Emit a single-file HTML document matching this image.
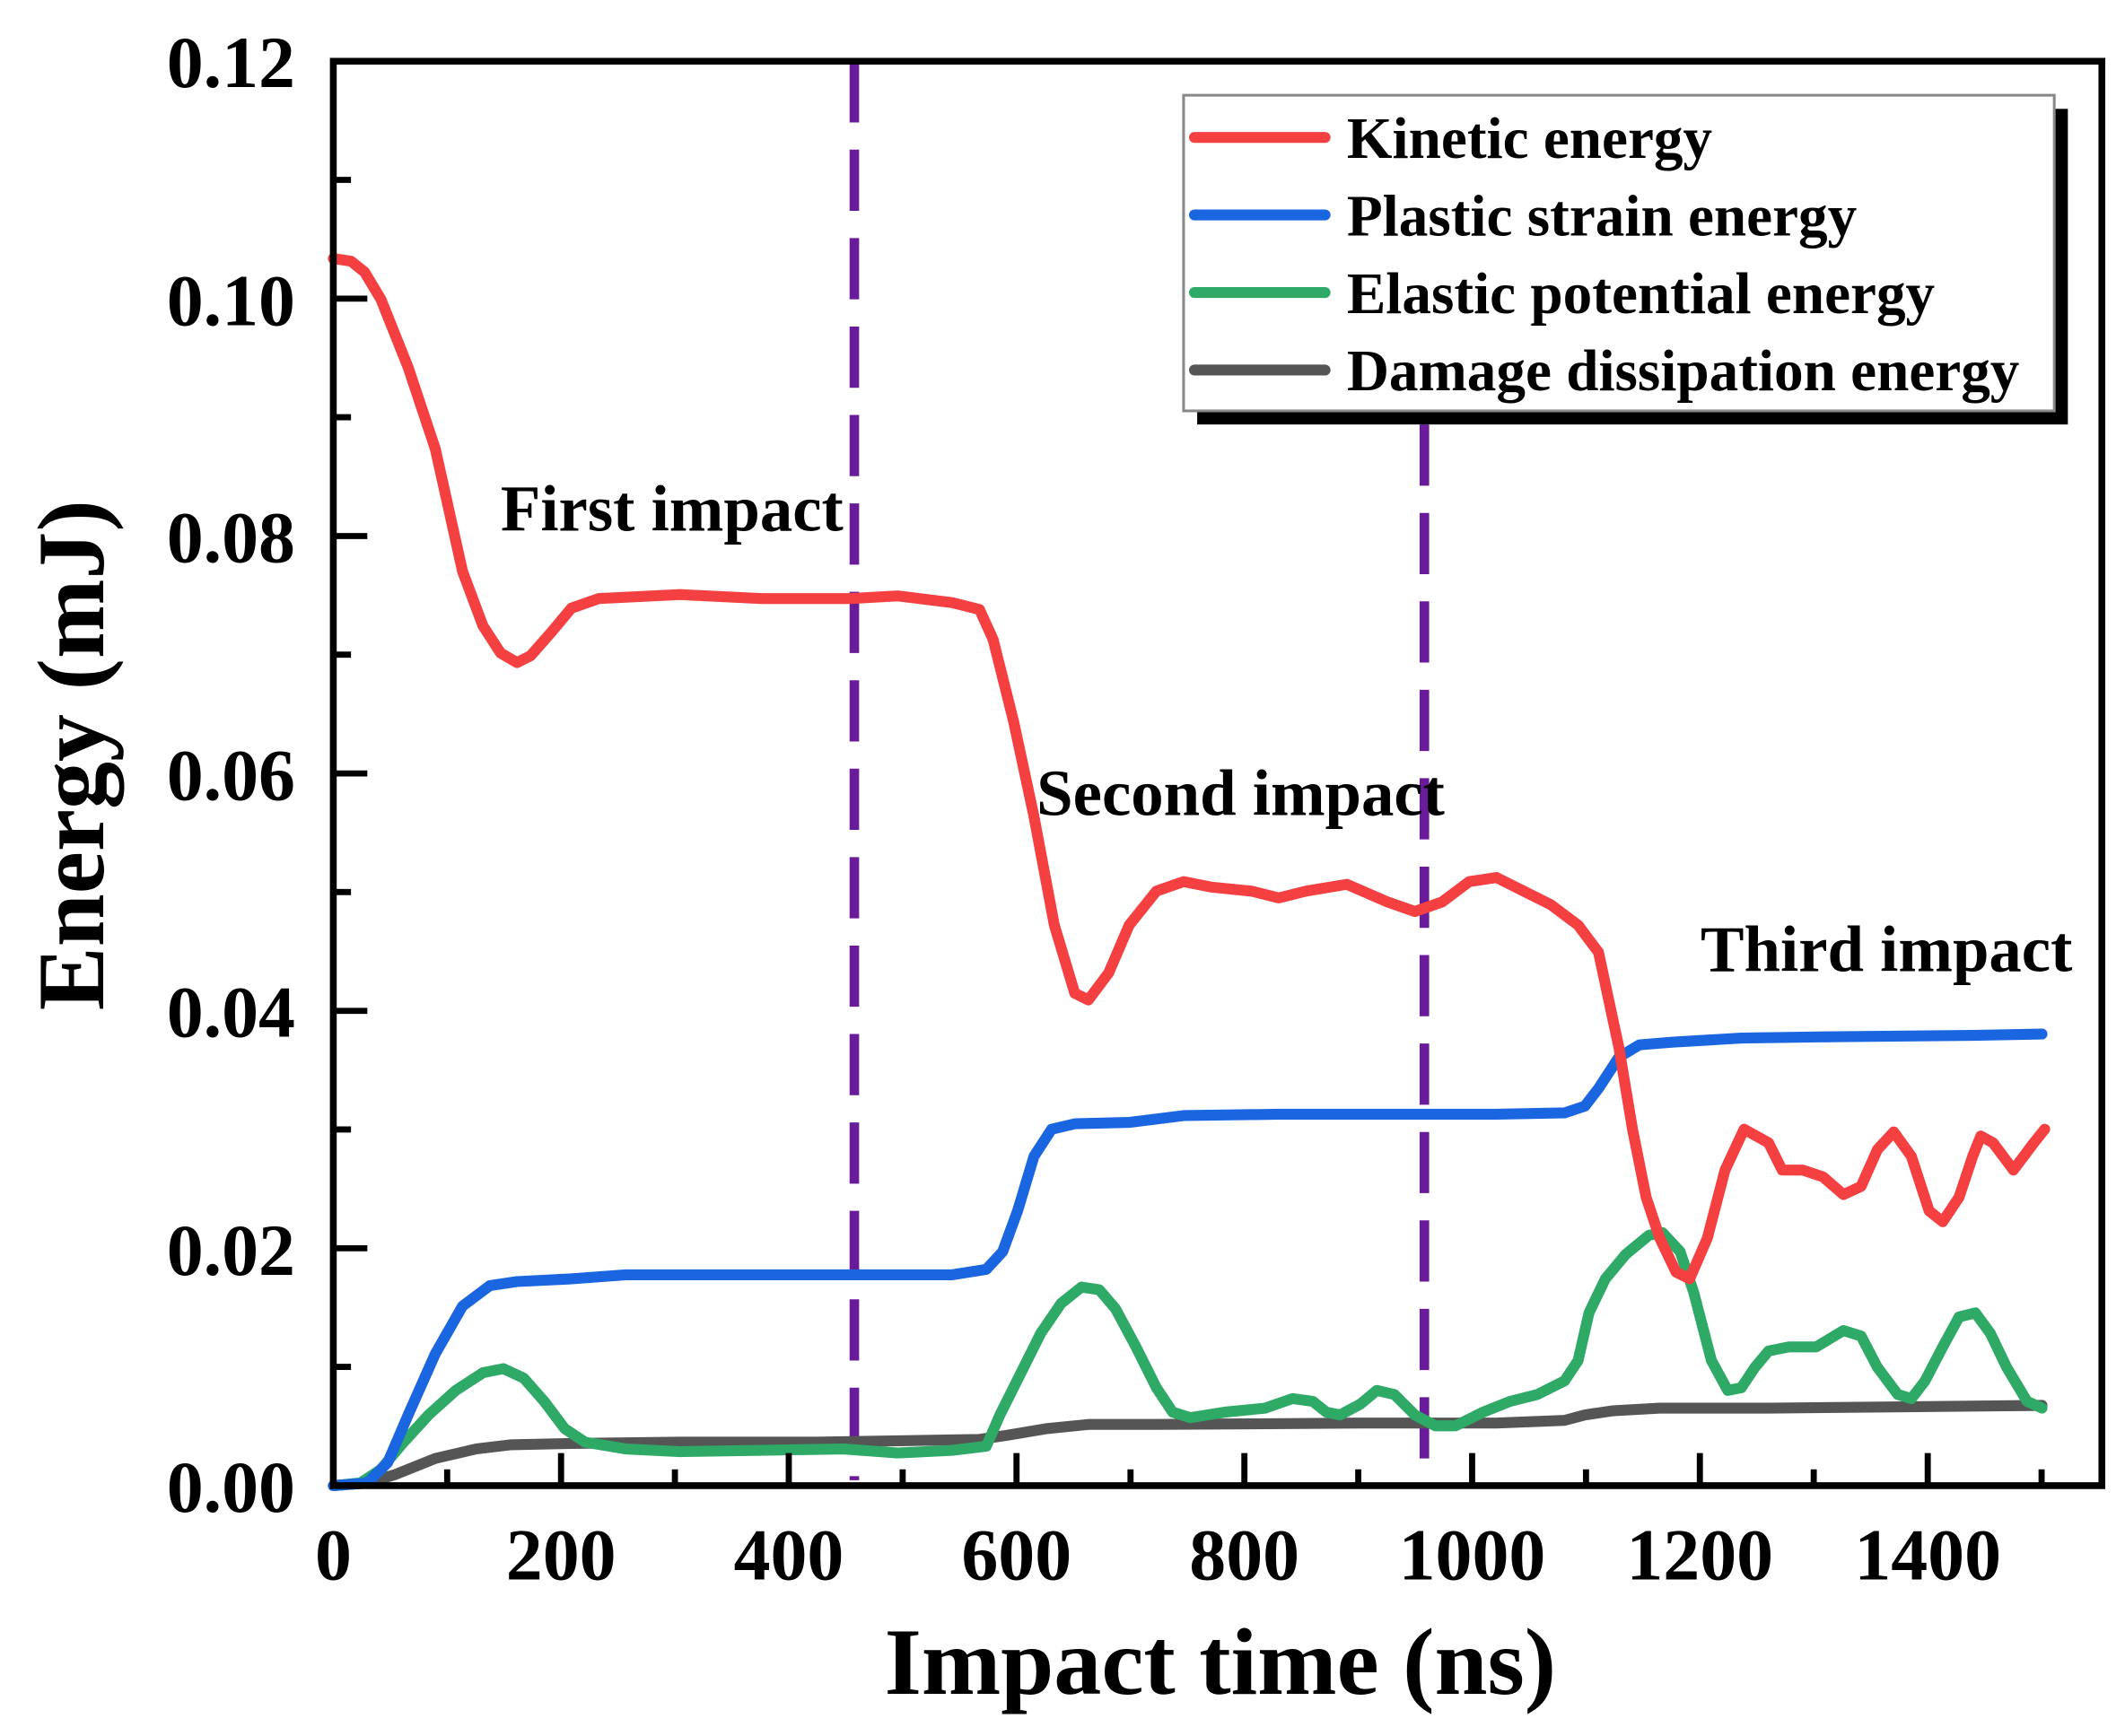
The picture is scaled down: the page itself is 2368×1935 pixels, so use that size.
<!DOCTYPE html>
<html><head><meta charset="utf-8"><style>
html,body{margin:0;padding:0;background:#fff;}
svg{display:block;}
text{font-family:"Liberation Serif",serif;font-weight:bold;fill:#000;}
</style></head><body>
<svg width="2368" height="1935" viewBox="0 0 1562 1276" preserveAspectRatio="none" xmlns="http://www.w3.org/2000/svg">
<rect width="1562" height="1276" fill="#fff"/>
<!-- dashed lines -->
<line x1="628" y1="45" x2="628" y2="1088" stroke="#6a1b9a" stroke-width="7" stroke-dasharray="45,20"/>
<line x1="1047" y1="312" x2="1047" y2="1082" stroke="#6a1b9a" stroke-width="7" stroke-dasharray="45,20"/>
<!-- curves -->
<g fill="none" stroke-width="8" stroke-linejoin="round" stroke-linecap="round">
<polyline stroke="#555555" points="245,1092 270,1090 290,1084 320,1072 350,1065 375,1062 420,1061 500,1060 600,1060 720,1058 740,1055 770,1050 800,1047 850,1047 1000,1046 1100,1046 1150,1044 1165,1040 1185,1037 1220,1035 1300,1035 1400,1034 1501,1033"/>
<polyline stroke="#2eaa66" points="245,1092 265,1090 280,1080 295,1062 315,1040 335,1022 355,1009 370,1006 385,1013 400,1030 415,1050 430,1060 460,1065 500,1067 560,1066 620,1065 660,1068 700,1066 725,1063 735,1040 750,1010 765,980 780,958 795,946 808,948 820,962 835,990 850,1020 862,1038 875,1042 900,1038 930,1035 950,1028 965,1030 975,1038 985,1040 1000,1032 1012,1022 1025,1025 1040,1040 1055,1048 1070,1048 1090,1038 1110,1030 1130,1025 1150,1015 1160,1000 1168,965 1180,940 1195,922 1212,908 1222,906 1235,920 1245,950 1258,1000 1270,1022 1280,1020 1290,1005 1300,993 1315,990 1335,990 1355,978 1368,982 1380,1005 1395,1025 1405,1028 1415,1015 1428,990 1440,968 1452,965 1463,980 1475,1005 1490,1030 1501,1035"/>
<polyline stroke="#1a66e0" points="245,1092 270,1090 285,1075 300,1040 320,995 340,960 360,945 380,942 420,940 460,937 520,937 600,937 700,937 725,933 737,920 748,890 760,850 773,830 790,826 830,825 870,820 940,819 1040,819 1100,819 1150,818 1165,813 1175,800 1190,777 1205,768 1230,766 1280,763 1350,762 1450,761 1501,760"/>
<polyline stroke="#f44040" points="245,190 258,192 268,200 280,220 300,270 320,330 340,420 355,460 368,480 380,487 390,482 405,465 420,447 440,440 500,437 560,440 625,440 660,438 700,443 720,448 730,470 745,530 760,600 775,680 790,730 800,735 815,715 830,680 850,655 870,648 890,652 920,655 940,660 960,655 990,650 1020,663 1040,670 1060,663 1080,648 1100,645 1120,655 1140,665 1160,680 1175,700 1190,770 1200,830 1210,880 1220,910 1232,935 1242,940 1255,910 1268,860 1282,830 1300,840 1310,860 1325,860 1340,865 1355,878 1368,872 1380,845 1392,832 1405,850 1418,890 1428,898 1440,880 1450,850 1456,835 1465,840 1480,860 1495,840 1503,830"/>
</g>
<!-- axes -->
<path d="M245,45 H1545 V1092 H245 Z" fill="none" stroke="#000" stroke-width="5"/>
<g stroke="#000" stroke-width="4.5">
<line x1="245" y1="917.5" x2="270" y2="917.5"/><line x1="245" y1="743" x2="270" y2="743"/><line x1="245" y1="568.5" x2="270" y2="568.5"/><line x1="245" y1="394" x2="270" y2="394"/><line x1="245" y1="219.5" x2="270" y2="219.5"/>
<line x1="245" y1="1004.7" x2="258" y2="1004.7"/><line x1="245" y1="830.2" x2="258" y2="830.2"/><line x1="245" y1="655.7" x2="258" y2="655.7"/><line x1="245" y1="481.2" x2="258" y2="481.2"/><line x1="245" y1="306.7" x2="258" y2="306.7"/><line x1="245" y1="132.2" x2="258" y2="132.2"/>
<line x1="412.4" y1="1092" x2="412.4" y2="1068"/><line x1="579.8" y1="1092" x2="579.8" y2="1068"/><line x1="747.2" y1="1092" x2="747.2" y2="1068"/><line x1="914.7" y1="1092" x2="914.7" y2="1068"/><line x1="1082.1" y1="1092" x2="1082.1" y2="1068"/><line x1="1249.5" y1="1092" x2="1249.5" y2="1068"/><line x1="1417" y1="1092" x2="1417" y2="1068"/>
<line x1="328.7" y1="1092" x2="328.7" y2="1080"/><line x1="496.1" y1="1092" x2="496.1" y2="1080"/><line x1="663.5" y1="1092" x2="663.5" y2="1080"/><line x1="831" y1="1092" x2="831" y2="1080"/><line x1="998.4" y1="1092" x2="998.4" y2="1080"/><line x1="1165.8" y1="1092" x2="1165.8" y2="1080"/><line x1="1333.2" y1="1092" x2="1333.2" y2="1080"/><line x1="1500.7" y1="1092" x2="1500.7" y2="1080"/>
</g>
<g font-size="54" text-anchor="end">
<text x="217" y="1111">0.00</text><text x="217" y="937">0.02</text><text x="217" y="762">0.04</text><text x="217" y="588">0.06</text><text x="217" y="413">0.08</text><text x="217" y="239">0.10</text><text x="217" y="64">0.12</text>
</g>
<g font-size="54" text-anchor="middle">
<text x="245" y="1161">0</text><text x="412.4" y="1161">200</text><text x="579.8" y="1161">400</text><text x="747.2" y="1161">600</text><text x="914.7" y="1161">800</text><text x="1082.1" y="1161">1000</text><text x="1249.5" y="1161">1200</text><text x="1417" y="1161">1400</text>
</g>
<text x="897" y="1245" font-size="70" text-anchor="middle">Impact time (ns)</text>
<text transform="translate(76,555) rotate(-90)" font-size="70" text-anchor="middle">Energy (mJ)</text>
<g font-size="48">
<text x="368" y="390">First impact</text>
<text x="762" y="599">Second impact</text>
<text x="1250" y="714">Third impact</text>
</g>
<!-- legend -->
<rect x="880" y="80" width="640" height="232" fill="#000"/>
<rect x="870" y="70" width="640" height="232" fill="#fff" stroke="#888" stroke-width="2"/>
<g stroke-width="8" stroke-linecap="round">
<line x1="878" y1="101" x2="974" y2="101" stroke="#f44040"/>
<line x1="878" y1="158" x2="974" y2="158" stroke="#1a66e0"/>
<line x1="878" y1="215" x2="974" y2="215" stroke="#2eaa66"/>
<line x1="878" y1="272" x2="974" y2="272" stroke="#555555"/>
</g>
<g font-size="43">
<text x="990" y="116">Kinetic energy</text>
<text x="990" y="173">Plastic strain energy</text>
<text x="990" y="230">Elastic potential energy</text>
<text x="990" y="287">Damage dissipation energy</text>
</g>
</svg>
</body></html>
